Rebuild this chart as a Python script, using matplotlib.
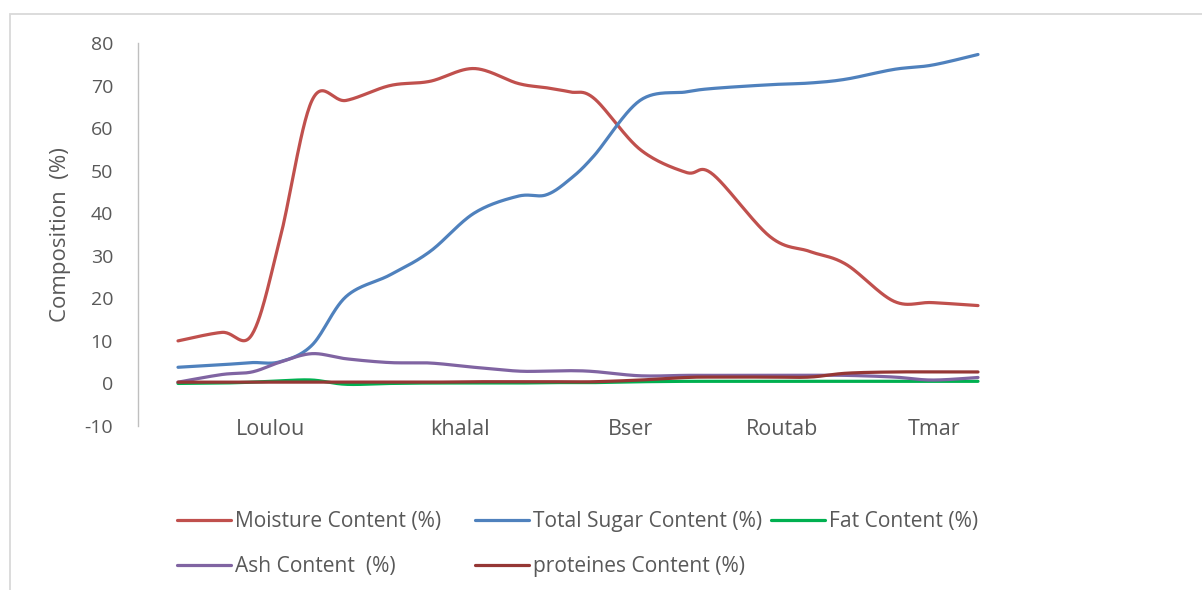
import numpy as np
import matplotlib
matplotlib.use("Agg")
import matplotlib.pyplot as plt
from matplotlib.lines import Line2D
from matplotlib.patches import Rectangle

plt.rcParams['font.family'] = ['Open Sans', 'DejaVu Sans']
plt.rcParams['axes.unicode_minus'] = False

# sampling points along the ripening axis (shared by all series)
stage_pos = [0, 1.1, 1.85, 2.55, 3.35, 4.2, 5.3, 6.3, 7.4, 8.5, 9.2,
             9.8, 10.4, 11.55, 12.7, 13.35, 14.8, 15.8, 16.7, 17.9, 18.85, 20]

moisture = [10, 12, 11.5, 34, 66.5, 66.5, 70, 71, 74, 70.5, 69.5,
            68.5, 67, 55, 49.6, 49.3, 34.5, 31, 28, 19.3, 19, 18.3]
sugar = [3.8, 4.4, 4.9, 5.1, 9, 20.4, 25.5, 31, 40, 44, 44.3,
         48, 53.5, 66.5, 68.5, 69.3, 70.2, 70.6, 71.5, 73.8, 74.8, 77.3]
fat = [0, 0.1, 0.3, 0.6, 0.8, -0.2, 0, 0.1, 0.1, 0.1, 0.2,
       0.2, 0.2, 0.4, 0.5, 0.5, 0.5, 0.5, 0.5, 0.5, 0.5, 0.5]
ash = [0.3, 2.1, 2.7, 5.0, 7.0, 5.8, 4.9, 4.8, 3.8, 2.9, 2.9,
       3.0, 2.8, 1.8, 1.9, 1.9, 1.9, 1.9, 1.9, 1.5, 0.8, 1.4]
proteins = [0.3, 0.3, 0.3, 0.3, 0.3, 0.3, 0.3, 0.3, 0.4, 0.4, 0.4,
            0.4, 0.4, 0.8, 1.4, 1.5, 1.5, 1.5, 2.4, 2.7, 2.7, 2.7]

stage_labels = ['Loulou', 'khalal', 'Bser', 'Routab', 'Tmar']
stage_label_pos = [2.3, 7.05, 11.3, 15.1, 18.9]

series = [
    ('Moisture Content (%)', moisture, '#C0504D'),
    ('Total Sugar Content (%)', sugar, '#4F81BD'),
    ('Fat Content (%)', fat, '#00B050'),
    ('Ash Content  (%)', ash, '#8064A2'),
    ('proteines Content (%)', proteins, '#953735'),
]


def smooth(xs, ys, n=30):
    # Bezier smoothing with control points from neighbouring points
    p = np.column_stack([xs, ys]).astype(float)
    p_ext = np.vstack([p[0], p, p[-1]])
    out = []
    t = np.linspace(0, 1, n)[:, None]
    for i in range(len(p) - 1):
        p0, p1, p2, p3 = p_ext[i], p_ext[i + 1], p_ext[i + 2], p_ext[i + 3]
        c1 = p1 + (p2 - p0) / 6
        c2 = p2 - (p3 - p1) / 6
        seg = ((1 - t) ** 3) * p1 + 3 * ((1 - t) ** 2) * t * c1 + 3 * (1 - t) * t ** 2 * c2 + t ** 3 * p2
        out.append(seg if i == 0 else seg[1:])
    out = np.vstack(out)
    return out[:, 0], out[:, 1]


W, H = 1202, 590
fig = plt.figure(figsize=(W / 100, H / 100), dpi=100)
ax = fig.add_axes([138 / W, 1 - 426 / H, (1018 - 138) / W, (426 - 43) / H])

for name, vals, col in series:
    sx, sy = smooth(stage_pos, vals)
    ax.plot(sx, sy, color=col, lw=2.3, solid_capstyle='round', clip_on=False)

ax.set_xlim(-1, 21)
ax.set_ylim(-10, 80)
ax.set_yticks(range(-10, 81, 10))
ax.set_xticks(stage_label_pos)
ax.set_xticklabels(stage_labels)
ax.tick_params(axis='y', length=0, pad=18, labelsize=14, labelcolor='#595959')
ax.tick_params(axis='x', length=0, pad=-5, labelsize=15.5, labelcolor='#595959')
for s in ['top', 'right', 'bottom']:
    ax.spines[s].set_visible(False)
ax.spines['left'].set_color('#BFBFBF')
ax.spines['left'].set_linewidth(1.0)

fig.text(61 / W, 1 - 235 / H, 'Composition  (%)', rotation=90, ha='center', va='center',
         fontsize=16, color='#595959')

# legend drawn by hand in figure pixels
legend_slots = [(177, 520), (475, 520), (771, 520), (177, 565), (475, 565)]
for (name, vals, col), (lx, ly) in zip(series, legend_slots):
    fig.add_artist(Line2D([lx / W, (lx + 54) / W], [1 - ly / H, 1 - ly / H],
                          color=col, lw=2.3, solid_capstyle='round'))
    fig.text((lx + 58) / W, 1 - ly / H - 0.003, name, ha='left', va='center',
             fontsize=15.1, color='#595959')

# chart frame
fig.add_artist(Rectangle((10 / W, -0.1), 1.2, 1.1 - 14 / H, transform=fig.transFigure,
                         fill=False, edgecolor='#D9D9D9', lw=1.3))

fig.savefig('out.png', dpi=100)
